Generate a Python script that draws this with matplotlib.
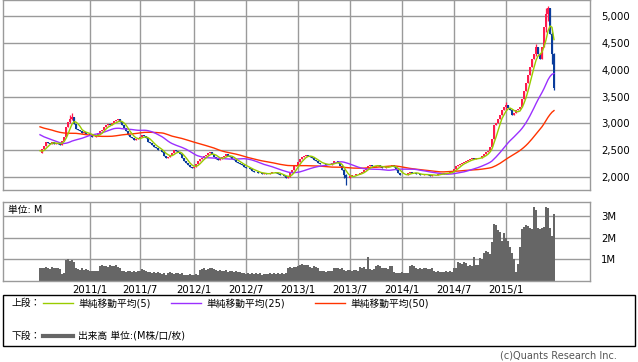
import numpy as np
import pandas as pd
import matplotlib
matplotlib.use("Agg")
from matplotlib import pyplot as plt
from matplotlib.patches import Rectangle

plt.rcParams['font.family'] = ['DejaVu Sans', 'Noto Sans CJK JP']

# weekly closes before the visible window (only used to warm up the moving averages)
pre_close = [3150, 3200, 3120, 3050, 3080, 3150, 3220, 3180, 3100, 3050,
             3000, 3020, 3080, 3120, 3100, 3060, 3020, 3000, 3050, 3100,
             3120, 3080, 3040, 3000, 2980,
             3020, 3050, 3000, 2980, 3010, 2990, 2960, 2950, 2980, 2940,
             2900, 2860, 2820, 2780, 2750, 2700, 2680, 2650, 2620, 2600,
             2560, 2520, 2480, 2450]

# weekly closes shown on the chart (from 2010/7 to 2015/6)
close = [2440, 2520, 2580, 2660, 2640, 2620, 2650, 2610, 2640, 2620,
         2600, 2680, 2750, 2940, 3030, 3080, 3125, 2980, 2900, 2870,
         2850, 2820, 2840, 2800, 2810, 2780, 2750, 2740, 2770, 2820,
         2860, 2880, 2940, 2970, 2990, 2960, 3000, 3040, 3060, 3080,
         3030, 2960, 2910, 2860, 2790, 2750, 2720, 2690, 2700, 2720,
         2750, 2780, 2760, 2720, 2660, 2625, 2600, 2560, 2540, 2510,
         2500, 2460, 2400, 2345, 2380, 2410, 2450, 2500, 2480, 2460,
         2430, 2350, 2300, 2260, 2220, 2180, 2160, 2190, 2250, 2290,
         2340, 2350, 2390, 2410, 2440, 2470, 2420, 2375, 2340, 2310,
         2340, 2375, 2400, 2420, 2400, 2375, 2340, 2310, 2280, 2260,
         2250, 2220, 2190, 2170, 2160, 2150, 2120, 2100, 2090, 2080,
         2070, 2060, 2070, 2050, 2060, 2080, 2100, 2090, 2070, 2060,
         2040, 2030, 2010, 1980, 2000, 2070, 2130, 2200, 2230, 2285,
         2330, 2380, 2400, 2410, 2390, 2370, 2350, 2320, 2290, 2260,
         2250, 2240, 2245, 2230, 2220, 2225, 2260, 2300, 2290, 2260,
         2200, 2130, 2040, 1975, 1990, 2010, 2030, 2040, 2050, 2060,
         2070, 2090, 2130, 2170, 2200, 2225, 2210, 2190, 2210, 2225,
         2190, 2160, 2170, 2190, 2200, 2210, 2225, 2180, 2130, 2080,
         2040, 2030, 2040, 2035, 2070, 2100, 2080, 2070, 2065, 2050,
         2040, 2035, 2050, 2060, 2040, 2020, 2030, 2040, 2035, 2050,
         2060, 2070, 2065, 2070, 2070, 2090, 2110, 2150, 2200, 2225,
         2240, 2265, 2280, 2300, 2316, 2330, 2345, 2340, 2350, 2345,
         2360, 2400, 2420, 2460, 2480, 2560, 2700, 2970, 3000, 3080,
         3150, 3250, 3310, 3340, 3290, 3240, 3150, 3190, 3240, 3260,
         3310, 3450, 3600, 3750, 3900, 4050, 4200, 4300, 4420, 4300,
         4200, 4420, 4800, 5040, 5140, 4670, 4300, 3650]

# a few visible wicks: index -> (low, high)
wicks = {16: (3060, 3190), 15: (3000, 3150), 153: (1850, 2050), 152: (1990, 2140),
         233: (3250, 3400), 248: (4250, 4480), 254: (4900, 5190), 253: (4700, 5150),
         257: (3620, 4310), 256: (4100, 4700)}

# weekly volume, millions
volume = [0.60, 0.62, 0.58, 0.65, 0.60, 0.55, 0.63, 0.60, 0.58, 0.62,
          0.55, 0.34, 0.36, 0.95, 1.00, 0.92, 0.98, 0.90, 0.60, 0.55,
          0.52, 0.58, 0.50, 0.55, 0.52, 0.45, 0.46, 0.44, 0.45, 0.47,
          0.70, 0.72, 0.68, 0.70, 0.66, 0.72, 0.70, 0.68, 0.74, 0.65,
          0.62, 0.48, 0.45, 0.42, 0.47, 0.44, 0.40, 0.45, 0.43, 0.46,
          0.44, 0.55, 0.50, 0.45, 0.42, 0.40, 0.38, 0.42, 0.36, 0.40,
          0.38, 0.32, 0.35, 0.30, 0.38, 0.40, 0.36, 0.33, 0.38, 0.35,
          0.32, 0.36, 0.30, 0.28, 0.30, 0.32, 0.28, 0.30, 0.31, 0.30,
          0.52, 0.55, 0.58, 0.50, 0.55, 0.60, 0.62, 0.55, 0.50, 0.48,
          0.52, 0.45, 0.48, 0.50, 0.42, 0.46, 0.44, 0.40, 0.48, 0.42,
          0.40, 0.38, 0.35, 0.32, 0.36, 0.34, 0.38, 0.33, 0.35, 0.32,
          0.36, 0.30, 0.34, 0.33, 0.32, 0.35, 0.33, 0.35, 0.34, 0.36,
          0.33, 0.35, 0.34, 0.36, 0.62, 0.65, 0.60, 0.66, 0.64, 0.70,
          0.75, 0.78, 0.72, 0.76, 0.74, 0.65, 0.62, 0.68, 0.64, 0.60,
          0.45, 0.44, 0.47, 0.42, 0.46, 0.44, 0.48, 0.60, 0.58, 0.62,
          0.56, 0.60, 0.50, 0.48, 0.52, 0.50, 0.47, 0.50, 0.52, 0.48,
          0.65, 0.62, 0.66, 0.55, 1.10, 0.55, 0.52, 0.56, 0.70, 0.72,
          0.68, 0.60, 0.58, 0.62, 0.56, 0.70, 0.68, 0.40, 0.36, 0.38,
          0.35, 0.40, 0.36, 0.38, 0.35, 0.70, 0.72, 0.68, 0.58, 0.56,
          0.60, 0.55, 0.58, 0.60, 0.57, 0.55, 0.58, 0.44, 0.42, 0.45,
          0.40, 0.43, 0.42, 0.45, 0.40, 0.44, 0.42, 0.60, 0.62, 0.88,
          0.85, 0.80, 0.90, 0.82, 0.70, 0.72, 0.68, 1.10, 0.75, 0.72,
          1.05, 1.02, 1.30, 1.40, 1.35, 1.25, 1.80, 2.65, 2.60, 2.35,
          2.25, 1.85, 2.20, 2.00, 1.85, 1.55, 1.30, 1.00, 0.40, 0.80,
          1.55, 2.40, 2.50, 2.60, 2.55, 2.45, 2.40, 3.40, 3.30, 2.45,
          2.40, 2.45, 2.48, 3.40, 3.35, 2.45, 2.10, 3.10]

dates = pd.date_range("2010-07-16", periods=len(close), freq="W-FRI")

full = pd.Series(pre_close + close, dtype=float)
n_pre = len(pre_close)
ma5 = full.rolling(5).mean().values[n_pre:]
ma25 = full.rolling(25).mean().values[n_pre:]
ma50 = full.rolling(50).mean().values[n_pre:]

x = np.arange(len(close))
opens = np.array([pre_close[-1]] + close[:-1], dtype=float)
closes = np.array(close, dtype=float)
up = closes >= opens

# first week of every January and July (skip the partial first month)
tick_idx = [i for i in range(1, len(dates))
            if dates[i].month in (1, 7) and dates[i - 1].month != dates[i].month]
tick_labels = [f"{dates[i].year}/{dates[i].month}" for i in tick_idx]

W, H = 638, 362
fig = plt.figure(figsize=(W / 100, H / 100), dpi=100)
grid_c = "#9a9a9a"
num_size = 7.3

ax = fig.add_axes([3 / W, 1 - 190 / H, 587 / W, 190 / H])
axv = fig.add_axes([3 / W, 1 - 281 / H, 587 / W, 79 / H])

for a in (ax, axv):
    a.set_xlim(-18.5, 275)
    a.set_xticks(tick_idx)
    a.grid(True, color=grid_c, linewidth=1)
    a.set_axisbelow(True)
    for s in a.spines.values():
        s.set_color(grid_c)
        s.set_linewidth(1)
    a.tick_params(length=0, labelsize=num_size)
    a.yaxis.tick_right()

# price panel
ax.set_ylim(1758, 5298)
ax.set_yticks([2000, 2500, 3000, 3500, 4000, 4500, 5000])
ax.set_yticklabels([f"{v:,}" for v in ax.get_yticks().astype(int)])
ax.tick_params(axis="y", pad=8)
ax.set_xticklabels([])

up_c, down_c = "#ff1a4d", "#0a3c9c"
colors = np.where(up, up_c, down_c)
lows = np.minimum(opens, closes)
highs = np.maximum(opens, closes)
for i, (lo, hi) in wicks.items():
    lows[i] = min(lows[i], lo)
    highs[i] = max(highs[i], hi)
ax.vlines(x, lows, highs, colors=colors, linewidth=0.9, zorder=2)
body_h = np.maximum(np.abs(closes - opens), 8)
ax.bar(x, body_h, bottom=np.minimum(opens, closes), width=0.9, color=colors, linewidth=0, zorder=2)

ax.plot(x, ma50, color="#ff3300", linewidth=1.0, zorder=3)
ax.plot(x, ma25, color="#9b30ff", linewidth=1.0, zorder=3)
ax.plot(x, ma5, color="#99cc00", linewidth=1.0, zorder=4)

# volume panel
axv.set_ylim(0, 3.65)
axv.set_yticks([1, 2, 3])
axv.set_yticklabels(["1M", "2M", "3M"])
axv.tick_params(axis="y", pad=8)
axv.bar(x, volume, width=1.0, color="#666666", linewidth=0, zorder=2)
axv.set_xticklabels(tick_labels)
axv.tick_params(axis="x", pad=3)
axv.text(5 / 587, 0.90, "単位: M", transform=axv.transAxes, fontsize=7,
         va="center", ha="left")

# legend box
fig.patches.append(Rectangle((3 / W, 1 - 346 / H), 632 / W, 51 / H, transform=fig.transFigure,
                             fill=False, edgecolor="black", linewidth=1))
row1 = 1 - 303 / H
row2 = 1 - 336 / H
fs = 7
fig.text(12 / W, row1, "上段：", fontsize=fs, va="center")
legend_items = [(43, "#99cc00", "単純移動平均(5)"), (171, "#9b30ff", "単純移動平均(25)"),
                (315, "#ff3300", "単純移動平均(50)")]
for x0, c, label in legend_items:
    fig.add_artist(plt.Line2D([x0 / W, (x0 + 30) / W], [row1, row1], color=c, linewidth=1,
                              transform=fig.transFigure))
    fig.text((x0 + 35) / W, row1, label, fontsize=fs, va="center")
fig.text(12 / W, row2, "下段：", fontsize=fs, va="center")
fig.add_artist(plt.Line2D([43 / W, 73 / W], [row2, row2], color="#666666", linewidth=3,
                          transform=fig.transFigure))
fig.text(78 / W, row2, "出来高 単位:(M株/口/枚)", fontsize=fs, va="center")

fig.text(617 / W, 1 - 356 / H, "(c)Quants Research Inc.", fontsize=7, color="#555555",
         ha="right", va="center")

fig.savefig("out.png", dpi=100)
plt.close(fig)
